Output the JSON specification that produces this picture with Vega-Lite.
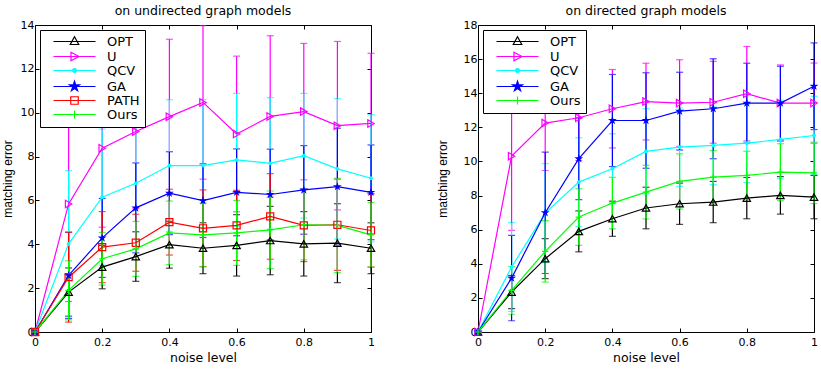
{
  "$schema": "https://vega.github.io/schema/vega-lite/v6.json",
  "background": "white",
  "padding": {"left": 0, "top": 4, "right": 0, "bottom": 0},
  "config": {
    "view": {"stroke": "black", "strokeWidth": 1},
    "font": "DejaVu Sans",
    "axis": {
      "grid": false, "domain": false, "tickColor": "black", "tickSize": -4, "tickWidth": 1,
      "labelColor": "black", "labelFont": "DejaVu Sans", "labelFontSize": 11, "labelPadding": 5,
      "labelFlush": false,
      "titleFont": "DejaVu Sans", "titleFontSize": 12.5, "titleFontWeight": "normal", "titleColor": "black"
    },
    "legend": {
      "orient": "top-left", "offset": 5, "padding": 5,
      "fillColor": "white", "strokeColor": "black",
      "symbolSize": 100, "symbolOffset": 23, "labelOffset": 26, "rowPadding": 0,
      "symbolStrokeWidth": 1.2, "symbolOpacity": 1,
      "labelFont": "DejaVu Sans", "labelFontSize": 13, "labelColor": "black"
    },
    "title": {"font": "DejaVu Sans", "fontSize": 12.5, "fontWeight": "normal", "color": "black", "offset": 2}
  },
  "datasets": {
    "undirected": [
      {"noise": 0, "method": "OPT", "mean": 0, "sd": 0},
      {"noise": 0.1, "method": "OPT", "mean": 1.82, "sd": 1.1},
      {"noise": 0.2, "method": "OPT", "mean": 2.96, "sd": 0.99},
      {"noise": 0.3, "method": "OPT", "mean": 3.44, "sd": 1.13},
      {"noise": 0.4, "method": "OPT", "mean": 3.98, "sd": 1.07},
      {"noise": 0.5, "method": "OPT", "mean": 3.82, "sd": 1.16},
      {"noise": 0.6, "method": "OPT", "mean": 3.95, "sd": 1.4},
      {"noise": 0.7, "method": "OPT", "mean": 4.17, "sd": 1.56},
      {"noise": 0.8, "method": "OPT", "mean": 4.02, "sd": 1.47},
      {"noise": 0.9, "method": "OPT", "mean": 4.05, "sd": 1.8},
      {"noise": 1.0, "method": "OPT", "mean": 3.82, "sd": 1.16},
      {"noise": 0, "method": "U", "mean": 0, "sd": 0},
      {"noise": 0.1, "method": "U", "mean": 5.84, "sd": 4.45},
      {"noise": 0.2, "method": "U", "mean": 8.38, "sd": 3.6},
      {"noise": 0.3, "method": "U", "mean": 9.14, "sd": 3.5},
      {"noise": 0.4, "method": "U", "mean": 9.82, "sd": 3.53},
      {"noise": 0.5, "method": "U", "mean": 10.47, "sd": 3.5},
      {"noise": 0.6, "method": "U", "mean": 9.03, "sd": 3.55},
      {"noise": 0.7, "method": "U", "mean": 9.83, "sd": 3.68},
      {"noise": 0.8, "method": "U", "mean": 10.05, "sd": 3.11},
      {"noise": 0.9, "method": "U", "mean": 9.41, "sd": 3.84},
      {"noise": 1.0, "method": "U", "mean": 9.51, "sd": 3.2},
      {"noise": 0, "method": "QCV", "mean": 0, "sd": 0},
      {"noise": 0.1, "method": "QCV", "mean": 4.02, "sd": 3.34},
      {"noise": 0.2, "method": "QCV", "mean": 6.15, "sd": 3.1},
      {"noise": 0.3, "method": "QCV", "mean": 6.78, "sd": 3.0},
      {"noise": 0.4, "method": "QCV", "mean": 7.59, "sd": 3.0},
      {"noise": 0.5, "method": "QCV", "mean": 7.59, "sd": 3.0},
      {"noise": 0.6, "method": "QCV", "mean": 7.85, "sd": 3.03},
      {"noise": 0.7, "method": "QCV", "mean": 7.69, "sd": 3.0},
      {"noise": 0.8, "method": "QCV", "mean": 8.04, "sd": 2.84},
      {"noise": 0.9, "method": "QCV", "mean": 7.44, "sd": 3.2},
      {"noise": 1.0, "method": "QCV", "mean": 7.01, "sd": 2.9},
      {"noise": 0, "method": "GA", "mean": 0, "sd": 0},
      {"noise": 0.1, "method": "GA", "mean": 2.58, "sd": 1.97},
      {"noise": 0.2, "method": "GA", "mean": 4.29, "sd": 1.8},
      {"noise": 0.3, "method": "GA", "mean": 5.66, "sd": 2.05},
      {"noise": 0.4, "method": "GA", "mean": 6.33, "sd": 1.89},
      {"noise": 0.5, "method": "GA", "mean": 5.99, "sd": 1.68},
      {"noise": 0.6, "method": "GA", "mean": 6.37, "sd": 1.98},
      {"noise": 0.7, "method": "GA", "mean": 6.27, "sd": 2.07},
      {"noise": 0.8, "method": "GA", "mean": 6.48, "sd": 2.02},
      {"noise": 0.9, "method": "GA", "mean": 6.63, "sd": 2.66},
      {"noise": 1.0, "method": "GA", "mean": 6.37, "sd": 2.16},
      {"noise": 0, "method": "PATH", "mean": 0, "sd": 0},
      {"noise": 0.1, "method": "PATH", "mean": 2.5, "sd": 2.05},
      {"noise": 0.2, "method": "PATH", "mean": 3.87, "sd": 1.62},
      {"noise": 0.3, "method": "PATH", "mean": 4.07, "sd": 1.3},
      {"noise": 0.4, "method": "PATH", "mean": 5.01, "sd": 1.5},
      {"noise": 0.5, "method": "PATH", "mean": 4.73, "sd": 1.75},
      {"noise": 0.6, "method": "PATH", "mean": 4.86, "sd": 1.6},
      {"noise": 0.7, "method": "PATH", "mean": 5.27, "sd": 1.95},
      {"noise": 0.8, "method": "PATH", "mean": 4.86, "sd": 1.65},
      {"noise": 0.9, "method": "PATH", "mean": 4.89, "sd": 2.08},
      {"noise": 1.0, "method": "PATH", "mean": 4.63, "sd": 1.67},
      {"noise": 0, "method": "Ours", "mean": 0, "sd": 0},
      {"noise": 0.1, "method": "Ours", "mean": 1.9, "sd": 1.35},
      {"noise": 0.2, "method": "Ours", "mean": 3.34, "sd": 1.2},
      {"noise": 0.3, "method": "Ours", "mean": 3.79, "sd": 1.25},
      {"noise": 0.4, "method": "Ours", "mean": 4.52, "sd": 1.45},
      {"noise": 0.5, "method": "Ours", "mean": 4.43, "sd": 1.45},
      {"noise": 0.6, "method": "Ours", "mean": 4.52, "sd": 1.48},
      {"noise": 0.7, "method": "Ours", "mean": 4.66, "sd": 1.77},
      {"noise": 0.8, "method": "Ours", "mean": 4.89, "sd": 1.6},
      {"noise": 0.9, "method": "Ours", "mean": 4.86, "sd": 2.15},
      {"noise": 1.0, "method": "Ours", "mean": 4.43, "sd": 1.47}
    ],
    "directed": [
      {"noise": 0, "method": "OPT", "mean": 0, "sd": 0},
      {"noise": 0.1, "method": "OPT", "mean": 2.34, "sd": 0.97},
      {"noise": 0.2, "method": "OPT", "mean": 4.3, "sd": 1.17},
      {"noise": 0.3, "method": "OPT", "mean": 5.9, "sd": 1.2},
      {"noise": 0.4, "method": "OPT", "mean": 6.64, "sd": 1.03},
      {"noise": 0.5, "method": "OPT", "mean": 7.27, "sd": 1.22},
      {"noise": 0.6, "method": "OPT", "mean": 7.52, "sd": 1.21},
      {"noise": 0.7, "method": "OPT", "mean": 7.62, "sd": 1.21},
      {"noise": 0.8, "method": "OPT", "mean": 7.85, "sd": 1.21},
      {"noise": 0.9, "method": "OPT", "mean": 8.01, "sd": 1.1},
      {"noise": 1.0, "method": "OPT", "mean": 7.91, "sd": 1.27},
      {"noise": 0, "method": "U", "mean": 0, "sd": 0},
      {"noise": 0.1, "method": "U", "mean": 10.31, "sd": 4.35},
      {"noise": 0.2, "method": "U", "mean": 12.25, "sd": 2.78},
      {"noise": 0.3, "method": "U", "mean": 12.56, "sd": 2.5},
      {"noise": 0.4, "method": "U", "mean": 13.09, "sd": 2.3},
      {"noise": 0.5, "method": "U", "mean": 13.51, "sd": 2.25},
      {"noise": 0.6, "method": "U", "mean": 13.42, "sd": 2.54},
      {"noise": 0.7, "method": "U", "mean": 13.47, "sd": 2.4},
      {"noise": 0.8, "method": "U", "mean": 13.97, "sd": 2.77},
      {"noise": 0.9, "method": "U", "mean": 13.42, "sd": 2.24},
      {"noise": 1.0, "method": "U", "mean": 13.42, "sd": 2.35},
      {"noise": 0, "method": "QCV", "mean": 0, "sd": 0},
      {"noise": 0.1, "method": "QCV", "mean": 3.81, "sd": 2.6},
      {"noise": 0.2, "method": "QCV", "mean": 6.97, "sd": 2.9},
      {"noise": 0.3, "method": "QCV", "mean": 8.79, "sd": 2.6},
      {"noise": 0.4, "method": "QCV", "mean": 9.57, "sd": 2.05},
      {"noise": 0.5, "method": "QCV", "mean": 10.59, "sd": 2.5},
      {"noise": 0.6, "method": "QCV", "mean": 10.84, "sd": 2.3},
      {"noise": 0.7, "method": "QCV", "mean": 10.94, "sd": 2.3},
      {"noise": 0.8, "method": "QCV", "mean": 11.07, "sd": 2.3},
      {"noise": 0.9, "method": "QCV", "mean": 11.29, "sd": 2.3},
      {"noise": 1.0, "method": "QCV", "mean": 11.52, "sd": 2.3},
      {"noise": 0, "method": "GA", "mean": 0, "sd": 0},
      {"noise": 0.1, "method": "GA", "mean": 3.16, "sd": 2.5},
      {"noise": 0.2, "method": "GA", "mean": 6.99, "sd": 3.56},
      {"noise": 0.3, "method": "GA", "mean": 10.16, "sd": 2.4},
      {"noise": 0.4, "method": "GA", "mean": 12.4, "sd": 2.7},
      {"noise": 0.5, "method": "GA", "mean": 12.4, "sd": 2.8},
      {"noise": 0.6, "method": "GA", "mean": 12.95, "sd": 2.28},
      {"noise": 0.7, "method": "GA", "mean": 13.09, "sd": 2.93},
      {"noise": 0.8, "method": "GA", "mean": 13.42, "sd": 2.34},
      {"noise": 0.9, "method": "GA", "mean": 13.42, "sd": 2.16},
      {"noise": 1.0, "method": "GA", "mean": 14.41, "sd": 2.54},
      {"noise": 0, "method": "Ours", "mean": 0, "sd": 0},
      {"noise": 0.1, "method": "Ours", "mean": 2.44, "sd": 1.4},
      {"noise": 0.2, "method": "Ours", "mean": 4.73, "sd": 1.8},
      {"noise": 0.3, "method": "Ours", "mean": 6.74, "sd": 1.66},
      {"noise": 0.4, "method": "Ours", "mean": 7.56, "sd": 1.51},
      {"noise": 0.5, "method": "Ours", "mean": 8.2, "sd": 1.57},
      {"noise": 0.6, "method": "Ours", "mean": 8.83, "sd": 1.62},
      {"noise": 0.7, "method": "Ours", "mean": 9.08, "sd": 1.56},
      {"noise": 0.8, "method": "Ours", "mean": 9.18, "sd": 1.42},
      {"noise": 0.9, "method": "Ours", "mean": 9.37, "sd": 1.67},
      {"noise": 1.0, "method": "Ours", "mean": 9.33, "sd": 1.8}
    ]
  },
  "spacing": 57,
  "resolve": {"scale": {"color": "independent", "shape": "independent", "stroke": "independent", "fill": "independent"}},
  "hconcat": [
    {
      "title": {"text": "on undirected graph models"},
      "width": 336, "height": 307,
      "data": {"name": "undirected"},
      "encoding": {
        "x": {"field": "noise", "type": "quantitative", "title": "noise level",
              "scale": {"domain": [0, 1], "nice": false, "zero": false},
              "axis": {"values": [0, 0.2, 0.4, 0.6, 0.8, 1], "format": "~g", "labelPadding": 8, "titlePadding": 4}},
        "y": {"field": "mean", "type": "quantitative", "title": "matching error",
              "scale": {"domain": [0, 14], "nice": false},
              "axis": {"values": [0, 2, 4, 6, 8, 10, 12, 14], "titleFont": "Liberation Sans", "titleFontSize": 12, "titlePadding": 6}},
        "color": {
          "field": "method", "type": "nominal", "legend": null,
          "scale": {"domain": ["Ours", "PATH", "GA", "QCV", "U", "OPT"],
                    "range": ["#00ff00", "#ff0000", "#0000ff", "#00ffff", "#ff00ff", "#000000"]}
        }
      },
      "layer": [
        {
          "mark": {"type": "errorbar", "ticks": {"size": 7}, "thickness": 1.2},
          "encoding": {"yError": {"field": "sd"}}
        },
        {
          "mark": {"type": "line", "strokeWidth": 1.2},
          "encoding": {
            "x": {"field": "noise", "type": "quantitative", "axis": {"orient": "top", "values": [0, 0.2, 0.4, 0.6, 0.8, 1], "labels": false, "title": null}},
            "y": {"field": "mean", "type": "quantitative", "axis": {"orient": "right", "values": [0, 2, 4, 6, 8, 10, 12, 14], "labels": false, "title": null}}
          }
        },
        {
          "transform": [{"filter": "datum.method === 'OPT'"}],
          "mark": {"type": "point", "shape": "triangle-up", "filled": false, "size": 55, "strokeWidth": 1.2, "opacity": 1},
          "encoding": {"x": {"field": "noise", "type": "quantitative", "axis": null}, "y": {"field": "mean", "type": "quantitative", "axis": null}}
        },
        {
          "transform": [{"filter": "datum.method === 'U'"}],
          "mark": {"type": "point", "shape": "triangle-right", "filled": false, "size": 55, "strokeWidth": 1.2, "opacity": 1},
          "encoding": {"x": {"field": "noise", "type": "quantitative", "axis": null}, "y": {"field": "mean", "type": "quantitative", "axis": null}}
        },
        {
          "transform": [{"filter": "datum.method === 'QCV'"}],
          "mark": {"type": "point", "shape": "M-0.5,0A0.5,0.5 0 1,0 0.5,0A0.5,0.5 0 1,0 -0.5,0Z", "filled": true, "size": 60, "opacity": 1},
          "encoding": {"x": {"field": "noise", "type": "quantitative", "axis": null}, "y": {"field": "mean", "type": "quantitative", "axis": null}}
        },
        {
          "transform": [{"filter": "datum.method === 'GA'"}],
          "mark": {"type": "point", "shape": "M0,-1.2L0.27,-0.37L1.14,-0.37L0.44,0.14L0.71,0.97L0,0.46L-0.71,0.97L-0.44,0.14L-1.14,-0.37L-0.27,-0.37Z", "filled": true, "size": 60, "opacity": 1},
          "encoding": {"x": {"field": "noise", "type": "quantitative", "axis": null}, "y": {"field": "mean", "type": "quantitative", "axis": null}}
        },
        {
          "transform": [{"filter": "datum.method === 'PATH'"}],
          "mark": {"type": "point", "shape": "square", "filled": false, "size": 50, "strokeWidth": 1.2, "opacity": 1},
          "encoding": {"x": {"field": "noise", "type": "quantitative", "axis": null}, "y": {"field": "mean", "type": "quantitative", "axis": null}}
        },
        {
          "transform": [{"filter": "datum.method === 'Ours'"}],
          "mark": {"type": "point", "shape": "M-1,0L1,0M0,-1L0,1", "filled": false, "size": 40, "strokeWidth": 1.2, "opacity": 1},
          "encoding": {"x": {"field": "noise", "type": "quantitative", "axis": null}, "y": {"field": "mean", "type": "quantitative", "axis": null}}
        },
        {
          "transform": [{"filter": "false"}],
          "mark": {"type": "point", "filled": false},
          "encoding": {
            "x": {"field": "noise", "type": "quantitative", "axis": null},
            "y": {"field": "mean", "type": "quantitative", "axis": null},
            "stroke": {"field": "method", "type": "nominal", "legend": {"title": null},
                       "scale": {"domain": ["OPT", "U", "QCV", "GA", "PATH", "Ours"],
                                 "range": ["#000000", "#ff00ff", "#00ffff", "#0000ff", "#ff0000", "#00ff00"]}},
            "fill": {"field": "method", "type": "nominal", "legend": {"title": null},
                     "scale": {"domain": ["OPT", "U", "QCV", "GA", "PATH", "Ours"],
                               "range": ["transparent", "transparent", "#00ffff", "#0000ff", "transparent", "transparent"]}},
            "shape": {"field": "method", "type": "nominal", "legend": {"title": null},
                      "scale": {"domain": ["OPT", "U", "QCV", "GA", "PATH", "Ours"],
                                "range": ["M-4.2,0L4.2,0M0,-0.95L0.85,0.6L-0.85,0.6Z", "M-4.2,0L4.2,0M-0.7,-0.85L0.9,0L-0.7,0.85Z", "M-4.2,0L4.2,0M-0.4,0A0.4,0.4 0 1,0 0.4,0A0.4,0.4 0 1,0 -0.4,0Z", "M-4.2,0L4.2,0M0,-1.05L0.24,-0.32L1,-0.32L0.38,0.12L0.62,0.85L0,0.4L-0.62,0.85L-0.38,0.12L-1,-0.32L-0.24,-0.32Z", "M-4.2,0L4.2,0M-0.75,-0.75L0.75,-0.75L0.75,0.75L-0.75,0.75Z", "M-4.2,0L4.2,0M0,-0.8L0,0.8"]}}
          }
        }
      ],
      "resolve": {"axis": {"x": "independent", "y": "independent"}}
    },
    {
      "title": {"text": "on directed graph models"},
      "width": 336, "height": 307,
      "data": {"name": "directed"},
      "encoding": {
        "x": {"field": "noise", "type": "quantitative", "title": "noise level",
              "scale": {"domain": [0, 1], "nice": false, "zero": false},
              "axis": {"values": [0, 0.2, 0.4, 0.6, 0.8, 1], "format": "~g", "labelPadding": 8, "titlePadding": 4}},
        "y": {"field": "mean", "type": "quantitative", "title": "matching error",
              "scale": {"domain": [0, 18], "nice": false},
              "axis": {"values": [0, 2, 4, 6, 8, 10, 12, 14, 16, 18], "titleFont": "Liberation Sans", "titleFontSize": 12, "titlePadding": 14}},
        "color": {
          "field": "method", "type": "nominal", "legend": null,
          "scale": {"domain": ["Ours", "GA", "QCV", "U", "OPT"],
                    "range": ["#00ff00", "#0000ff", "#00ffff", "#ff00ff", "#000000"]}
        }
      },
      "layer": [
        {
          "mark": {"type": "errorbar", "ticks": {"size": 7}, "thickness": 1.2},
          "encoding": {"yError": {"field": "sd"}}
        },
        {
          "mark": {"type": "line", "strokeWidth": 1.2},
          "encoding": {
            "x": {"field": "noise", "type": "quantitative", "axis": {"orient": "top", "values": [0, 0.2, 0.4, 0.6, 0.8, 1], "labels": false, "title": null}},
            "y": {"field": "mean", "type": "quantitative", "axis": {"orient": "right", "values": [0, 2, 4, 6, 8, 10, 12, 14, 16, 18], "labels": false, "title": null}}
          }
        },
        {
          "transform": [{"filter": "datum.method === 'OPT'"}],
          "mark": {"type": "point", "shape": "triangle-up", "filled": false, "size": 55, "strokeWidth": 1.2, "opacity": 1},
          "encoding": {"x": {"field": "noise", "type": "quantitative", "axis": null}, "y": {"field": "mean", "type": "quantitative", "axis": null}}
        },
        {
          "transform": [{"filter": "datum.method === 'U'"}],
          "mark": {"type": "point", "shape": "triangle-right", "filled": false, "size": 55, "strokeWidth": 1.2, "opacity": 1},
          "encoding": {"x": {"field": "noise", "type": "quantitative", "axis": null}, "y": {"field": "mean", "type": "quantitative", "axis": null}}
        },
        {
          "transform": [{"filter": "datum.method === 'QCV'"}],
          "mark": {"type": "point", "shape": "M-0.5,0A0.5,0.5 0 1,0 0.5,0A0.5,0.5 0 1,0 -0.5,0Z", "filled": true, "size": 60, "opacity": 1},
          "encoding": {"x": {"field": "noise", "type": "quantitative", "axis": null}, "y": {"field": "mean", "type": "quantitative", "axis": null}}
        },
        {
          "transform": [{"filter": "datum.method === 'GA'"}],
          "mark": {"type": "point", "shape": "M0,-1.2L0.27,-0.37L1.14,-0.37L0.44,0.14L0.71,0.97L0,0.46L-0.71,0.97L-0.44,0.14L-1.14,-0.37L-0.27,-0.37Z", "filled": true, "size": 60, "opacity": 1},
          "encoding": {"x": {"field": "noise", "type": "quantitative", "axis": null}, "y": {"field": "mean", "type": "quantitative", "axis": null}}
        },
        {
          "transform": [{"filter": "datum.method === 'Ours'"}],
          "mark": {"type": "point", "shape": "M-1,0L1,0M0,-1L0,1", "filled": false, "size": 40, "strokeWidth": 1.2, "opacity": 1},
          "encoding": {"x": {"field": "noise", "type": "quantitative", "axis": null}, "y": {"field": "mean", "type": "quantitative", "axis": null}}
        },
        {
          "transform": [{"filter": "false"}],
          "mark": {"type": "point", "filled": false},
          "encoding": {
            "x": {"field": "noise", "type": "quantitative", "axis": null},
            "y": {"field": "mean", "type": "quantitative", "axis": null},
            "stroke": {"field": "method", "type": "nominal", "legend": {"title": null},
                       "scale": {"domain": ["OPT", "U", "QCV", "GA", "Ours"],
                                 "range": ["#000000", "#ff00ff", "#00ffff", "#0000ff", "#00ff00"]}},
            "fill": {"field": "method", "type": "nominal", "legend": {"title": null},
                     "scale": {"domain": ["OPT", "U", "QCV", "GA", "Ours"],
                               "range": ["transparent", "transparent", "#00ffff", "#0000ff", "transparent"]}},
            "shape": {"field": "method", "type": "nominal", "legend": {"title": null},
                      "scale": {"domain": ["OPT", "U", "QCV", "GA", "Ours"],
                                "range": ["M-4.2,0L4.2,0M0,-0.95L0.85,0.6L-0.85,0.6Z", "M-4.2,0L4.2,0M-0.7,-0.85L0.9,0L-0.7,0.85Z", "M-4.2,0L4.2,0M-0.4,0A0.4,0.4 0 1,0 0.4,0A0.4,0.4 0 1,0 -0.4,0Z", "M-4.2,0L4.2,0M0,-1.05L0.24,-0.32L1,-0.32L0.38,0.12L0.62,0.85L0,0.4L-0.62,0.85L-0.38,0.12L-1,-0.32L-0.24,-0.32Z", "M-4.2,0L4.2,0M0,-0.8L0,0.8"]}}
          }
        }
      ],
      "resolve": {"axis": {"x": "independent", "y": "independent"}}
    }
  ]
}
